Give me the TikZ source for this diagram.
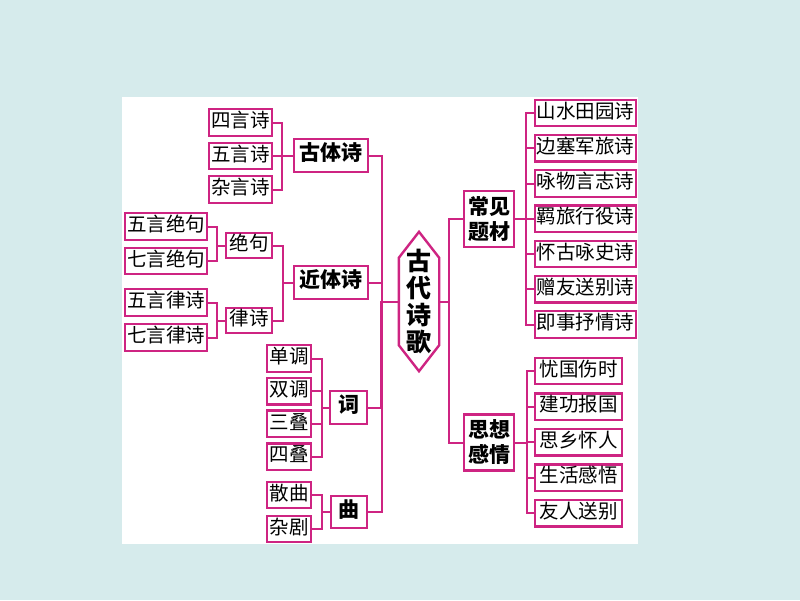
\documentclass[tikz,border=0pt]{standalone}
\usepackage{fontspec}
\setmainfont{Noto Sans CJK SC}
\usepackage{tikz}
\usetikzlibrary{calc,positioning}
\definecolor{rosered}{RGB}{206,36,130}
\definecolor{bgblue}{RGB}{214,235,236}
\tikzstyle{leaf} = [rectangle, draw=rosered, line width=2.4pt, fill=white,
    inner sep=0pt, minimum width=#1, minimum height=26.5pt,
    font=\fontsize{19.5}{19.5}\selectfont, text height=1.02em, text depth=0em]
\tikzset{
  leaf/.default=62.5pt,
  mainbox/.style={
    rectangle,
    draw=rosered, line width=2.4pt,
    fill=white,
    inner sep=0pt,
    minimum width=#1,
    minimum height=32.5pt,
    font=\bfseries\fontsize{21}{21}\selectfont,
    text height=1.02em, text depth=0em},
  mainbox/.default=73.5pt,
  topicbox/.style={
    rectangle,
    draw=rosered, line width=2.4pt,
    fill=white,
    inner sep=0pt,
    minimum width=49.5pt,
    minimum height=56pt,
    align=center,
    font=\bfseries\fontsize{21}{25}\selectfont},
  poemtext/.style={
    inner sep=0pt,
    minimum width=40pt,
    minimum height=139pt,
    align=center,
    font=\bfseries\fontsize{25}{27}\selectfont},
  hexline/.style={draw=rosered, line width=2.4pt, line join=miter},
  branch/.style={draw=rosered, line width=2pt},
}

\begin{document}
\begin{tikzpicture}[x=1pt, y=-1pt, node distance=35.25pt]
    % Background
    \fill[bgblue] (0,0) rectangle (800,600);
    \fill[white] (122,97) rectangle (638,544);
    % Place nodes: left side
    \node [leaf, node distance=33.5pt] (siYan) at (240.5,122.5) {四言诗};
    \node [leaf, node distance=33.5pt, below of=siYan] (wuYan) {五言诗};
    \node [leaf, node distance=33.5pt, below of=wuYan] (zaYan) {杂言诗};
    \node [mainbox] (guTi) at (331,155.5) {古体诗};
    \node [leaf=81.5pt] (wuJue) at (166,226.5) {五言绝句};
    \node [leaf=81.5pt, node distance=34.5pt, below of=wuJue] (qiJue) {七言绝句};
    \node [leaf=45.5pt, minimum height=25.5pt] (jueJu) at (249,245.5) {绝句};
    \node [leaf=81.5pt] (wuLv) at (166,302.5) {五言律诗};
    \node [leaf=81.5pt, node distance=35pt, below of=wuLv] (qiLv) {七言律诗};
    \node [leaf=45.5pt, minimum height=25.5pt] (lvShi) at (249,320.5) {律诗};
    \node [mainbox] (jinTi) at (331,282.5) {近体诗};
    \node [leaf=43.5pt] (danDiao) at (289,358.5) {单调};
    \node [leaf=43.5pt, node distance=32.7pt, below of=danDiao] (shuangDiao) {双调};
    \node [leaf=43.5pt, node distance=32.7pt, below of=shuangDiao] (sanDie) {三叠};
    \node [leaf=43.5pt, node distance=32.7pt, below of=sanDie] (siDie) {四叠};
    \node [mainbox=36.5pt] (ci) at (348.5,407.5) {词};
    \node [leaf=43.5pt] (sanQu) at (289,495) {散曲};
    \node [leaf=43.5pt, node distance=34pt, below of=sanQu] (zaJu) {杂剧};
    \node [mainbox=36.5pt] (qu) at (349,512) {曲};
    % centre
    \node [poemtext] (poem) at (419,301.5) {古\\代\\诗\\歌};
    \draw [hexline] (poem.north) -- ([yshift=-26pt]poem.north east)
        -- ([yshift=26pt]poem.south east) -- (poem.south)
        -- ([yshift=26pt]poem.south west) -- ([yshift=-26pt]poem.north west) -- cycle;
    % Place nodes: right side
    \node [topicbox] (tiCai) at (489,219) {常见\\题材};
    \node [topicbox] (qingGan) at (489,442.5) {思想\\感情};
    \node [leaf=100.5pt] (shanShui) at (585.5,113) {山水田园诗};
    \node [leaf=100.5pt, below of=shanShui] (bianSai) {边塞军旅诗};
    \node [leaf=100.5pt, below of=bianSai] (yongWu) {咏物言志诗};
    \node [leaf=100.5pt, below of=yongWu] (jiLv) {羁旅行役诗};
    \node [leaf=100.5pt, below of=jiLv] (huaiGu) {怀古咏史诗};
    \node [leaf=100.5pt, below of=huaiGu] (zengYou) {赠友送别诗};
    \node [leaf=100.5pt, below of=zengYou] (jiShi) {即事抒情诗};
    \node [leaf=86.5pt] (youGuo) at (578.5,371) {忧国伤时};
    \node [leaf=86.5pt, node distance=35.6pt, below of=youGuo] (jianGong) {建功报国};
    \node [leaf=86.5pt, node distance=35.6pt, below of=jianGong] (siXiang) {思乡怀人};
    \node [leaf=86.5pt, node distance=35.6pt, below of=siXiang] (shengHuo) {生活感悟};
    \node [leaf=86.5pt, node distance=35.6pt, below of=shengHuo] (youRen) {友人送别};
    % Draw edges
    \path [branch] (siYan.east) -- ++(9,0) |- (guTi.west);
    \path [branch] (wuYan.east) -- ++(9,0) |- (guTi.west);
    \path [branch] (zaYan.east) -- ++(9,0) |- (guTi.west);
    \path [branch] (wuJue.east) -- ++(9,0) |- (jueJu.west);
    \path [branch] (qiJue.east) -- ++(9,0) |- (jueJu.west);
    \path [branch] (wuLv.east) -- ++(9,0) |- (lvShi.west);
    \path [branch] (qiLv.east) -- ++(9,0) |- (lvShi.west);
    \path [branch] (jueJu.east) -- ++(10,0) |- (jinTi.west);
    \path [branch] (lvShi.east) -- ++(10,0) |- (jinTi.west);
    \path [branch] (danDiao.east) -- ++(10,0) |- (ci.west);
    \path [branch] (shuangDiao.east) -- ++(10,0) |- (ci.west);
    \path [branch] (sanDie.east) -- ++(10,0) |- (ci.west);
    \path [branch] (siDie.east) -- ++(10,0) |- (ci.west);
    \path [branch] (sanQu.east) -- ++(10,0) |- (qu.west);
    \path [branch] (zaJu.east) -- ++(10,0) |- (qu.west);
    \path [branch] (guTi.east) -- ++(13.5,0) |- (poem.west);
    \path [branch] (jinTi.east) -- ++(13.5,0) |- (poem.west);
    \path [branch] (ci.east) -- ++(13.5,0) |- (poem.west);
    \path [branch] (qu.east) -- ++(13.5,0) |- (poem.west);
    \path [branch] (poem.east) -- ++(10,0) |- (tiCai.west);
    \path [branch] (poem.east) -- ++(10,0) |- (qingGan.west);
    \path [branch] (tiCai.east) -- ++(11,0) |- (shanShui.west);
    \path [branch] (tiCai.east) -- ++(11,0) |- (bianSai.west);
    \path [branch] (tiCai.east) -- ++(11,0) |- (yongWu.west);
    \path [branch] (tiCai.east) -- ++(11,0) |- (jiLv.west);
    \path [branch] (tiCai.east) -- ++(11,0) |- (huaiGu.west);
    \path [branch] (tiCai.east) -- ++(11,0) |- (zengYou.west);
    \path [branch] (tiCai.east) -- ++(11,0) |- (jiShi.west);
    \path [branch] (qingGan.east) -- ++(12,0) |- (youGuo.west);
    \path [branch] (qingGan.east) -- ++(12,0) |- (jianGong.west);
    \path [branch] (qingGan.east) -- ++(12,0) |- (siXiang.west);
    \path [branch] (qingGan.east) -- ++(12,0) |- (shengHuo.west);
    \path [branch] (qingGan.east) -- ++(12,0) |- (youRen.west);
\end{tikzpicture}
\end{document}
